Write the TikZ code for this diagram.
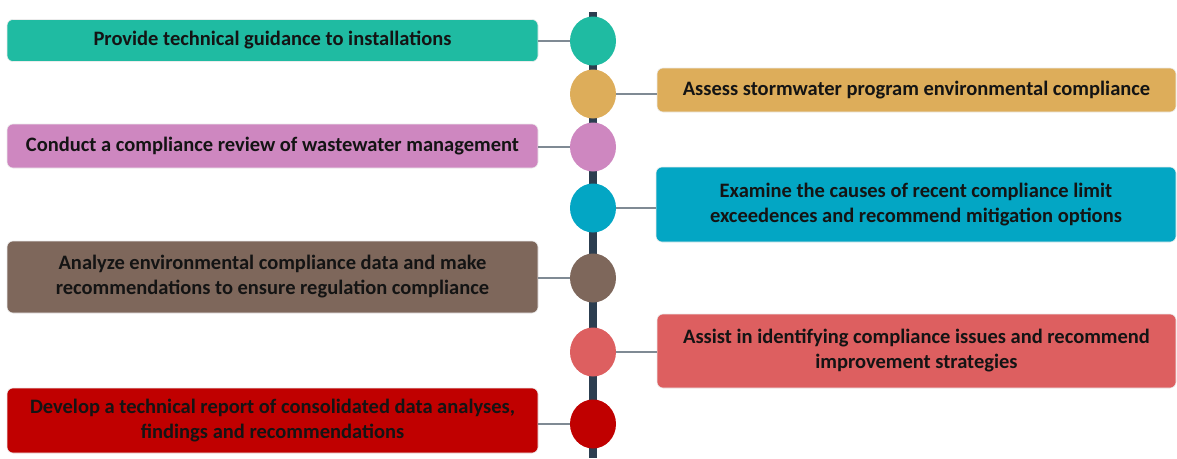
\documentclass[tikz,border=0pt]{standalone}
\usepackage{fontspec}
\setmainfont{Carlito}
\usetikzlibrary{shapes.geometric}

\definecolor{cTeal}{HTML}{1FBBA2}
\definecolor{cGold}{HTML}{DDAD5A}
\definecolor{cPink}{HTML}{CE87C0}
\definecolor{cBlue}{HTML}{03A6C4}
\definecolor{cBrown}{HTML}{7E675B}
\definecolor{cSalmon}{HTML}{DD5F60}
\definecolor{cRed}{HTML}{C00000}
\definecolor{cSpine}{HTML}{2C3E50}
\definecolor{cLink}{HTML}{7F8A94}
\definecolor{cText}{HTML}{141414}

\tikzset{
  taskbox/.style={rectangle, rounded corners=6pt, draw=white!85!gray, line width=0.6pt,
    inner sep=0pt, align=center, text=cText,
    font=\fontsize{20.5}{25}\selectfont\bfseries},
  dot/.style={ellipse, minimum width=46pt, minimum height=49pt, inner sep=0pt, draw=none},
  link/.style={draw=cLink, line width=1.2pt},
  spine/.style={draw=cSpine, line width=8pt}
}

\begin{document}
\begin{tikzpicture}[x=1pt,y=-1pt]
\useasboundingbox (0,0) rectangle (1177,458);

% central spine
\coordinate (top) at (593,12);
\coordinate (bottom) at (593,458);
\draw[spine] (top) -- (bottom);

% milestone dots
\node[dot, fill=cTeal]   (d1) at (593,41)  {};
\node[dot, fill=cGold]   (d2) at (593,94)  {};
\node[dot, fill=cPink]   (d3) at (593,147) {};
\node[dot, fill=cBlue]   (d4) at (593,208) {};
\node[dot, fill=cBrown]  (d5) at (593,278) {};
\node[dot, fill=cSalmon] (d6) at (593,352) {};
\node[dot, fill=cRed]    (d7) at (593,424) {};

% task boxes
\node[taskbox, fill=cTeal, minimum width=531pt, minimum height=42pt] (b1) at (272.5,40.5)
  {Provide technical guidance to installations};
\node[taskbox, fill=cGold, minimum width=519pt, minimum height=44pt] (b2) at (916.5,90)
  {Assess stormwater program environmental compliance};
\node[taskbox, fill=cPink, minimum width=531pt, minimum height=44pt] (b3) at (272.5,146)
  {Conduct a compliance review of wastewater management};
\node[taskbox, fill=cBlue, minimum width=520pt, minimum height=75pt] (b4) at (916,204.5)
  {Examine the causes of recent compliance limit\\exceedences and recommend mitigation options};
\node[taskbox, fill=cBrown, minimum width=531pt, minimum height=72pt] (b5) at (272.5,277)
  {Analyze environmental compliance data and make\\recommendations to ensure regulation compliance};
\node[taskbox, fill=cSalmon, minimum width=519pt, minimum height=74pt] (b6) at (916.5,351)
  {Assist in identifying compliance issues and recommend\\improvement strategies};
\node[taskbox, fill=cRed, minimum width=531pt, minimum height=65pt] (b7) at (272.5,420.5)
  {Develop a technical report of consolidated data analyses,\\findings and recommendations};

% connectors from boxes to dots
\draw[link] (b1.east |- d1) -- (d1.west);
\draw[link] (d2.east) -- (b2.west |- d2);
\draw[link] (b3.east |- d3) -- (d3.west);
\draw[link] (d4.east) -- (b4.west |- d4);
\draw[link] (b5.east |- d5) -- (d5.west);
\draw[link] (d6.east) -- (b6.west |- d6);
\draw[link] (b7.east |- d7) -- (d7.west);
\end{tikzpicture}
\end{document}
